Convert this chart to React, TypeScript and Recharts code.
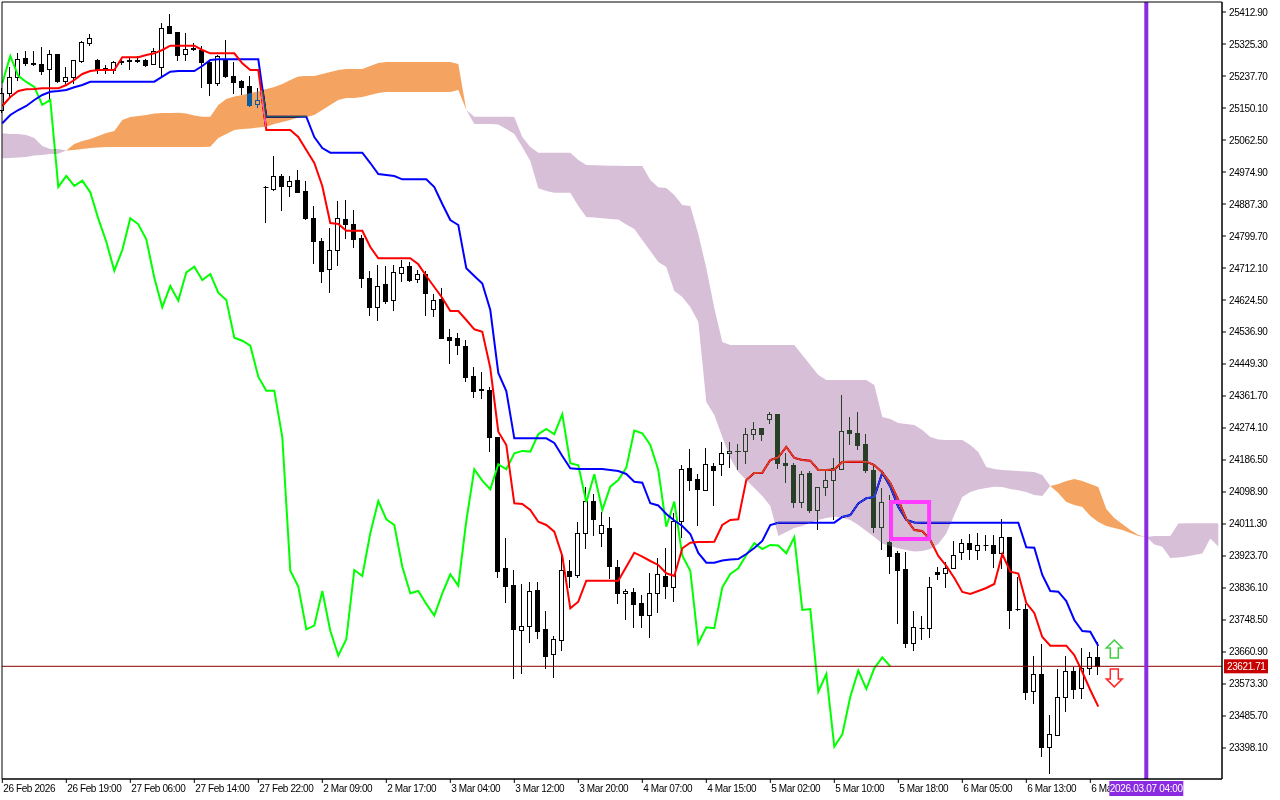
import React from 'react';
import { ComposedChart, Bar, Line, Area, XAxis, YAxis, ReferenceLine, ReferenceArea, ReferenceDot } from 'recharts';

// ---- candles (bar index 0..137, H1 bars) ----
const opens = [25145,25191,25235,25287,25274,25271,25257,25298,25224,25235,25279,25328,25282,25260,25254,25279,25282,25282,25282,25271,25263,25375,25358,25298,25315,25309,25276,25219,25282,25238,25224,25210,25161,24933,24927.6,24964,24937,24953,24922.1,24848,24786,24708.5,24761.4,24845.4,24831.7,24795.1,24684,24604.8,24668.6,24622.8,24700.3,24717.6,24681.2,24695.7,24599.1,24626.7,24522.4,24519.7,24498.6,24416.4,24380,24378.4,24249,23890,23844.3,23723,23733,23830.6,23724,23655,23694,23882.7,23869.8,23985.8,24074.3,23985.8,23999.5,23893,23821.6,23824.4,23794.2,23760.3,23821.6,23869,23839.7,24017.6,24164,24134.5,24104.4,24171,24175,24206.8,24210.6,24209.5,24257,24273.5,24298.2,24311.8,24177.7,24172.8,24071,24151.7,24049.6,24111.8,24131.75,24164,24268.9,24259.8,24230.5,24159.1,24003.9,23962.8,23931.1,23888.1,23684.7,23725.8,23725.8,23879.1,23876.4,23890,23934.3,23958.7,23940.1,23952,23953.9,23931.1,23975,23779.6,23778.6,23555,23600.7,23400,23435.6,23538.5,23609.7,23561.5,23616.3,23646.4];
const highs = [25205,25263,25301,25306,25306,25317,25309,25299,25263,25282,25334,25353,25283,25268,25279,25285,25290,25293,25283,25315,25383,25408,25359,25356,25328,25320,25282,25295,25336.5,25276,25227,25238,25205,24937,25019,24969.5,24964,24980.4,24951,24882,24794.5,24821.9,24895.8,24898.5,24871,24802.7,24704.7,24720.3,24717.6,24720.3,24734,24729.4,24706.6,24704.7,24641.2,24658.2,24545.4,24533.6,24515,24442,24428.2,24387.2,24250,23972.2,23885.4,23847.3,23853.4,23853.4,23774,23704.9,23935.6,23913,24017.6,24113.4,24093.6,24045,24029.6,23913,23832.5,23835.3,23817,23878,23917.4,23945,24042.3,24172.8,24216,24148.2,24218.7,24177.7,24236.8,24236.8,24229.7,24275,24289.7,24274,24317.3,24312,24205,24177.7,24156.4,24157,24113.4,24157,24193,24364.7,24305,24318.7,24257,24172.8,24110,24090.8,23937.4,23935.6,23773.4,23759.7,23867,23892.8,23908.4,23965.6,23969.4,23983.9,23987.5,23981.2,23981.2,24023.75,23975.5,23867,23792.5,23650,23683,23488.5,23613.5,23650,23621,23672.7,23662,23689];
const lows = [25139,25178,25227,25268,25268,25243,25172,25222,25219,25219,25276,25323,25246,25246,25246,25271,25257,25276,25265,25270,25241,25355,25282,25282,25309,25208,25186,25213,25235,25191,25189,25156,25153,24838,24927,24871,24910,24919,24846,24726.6,24674.6,24647,24720.3,24793.4,24770.4,24661,24583.7,24570,24617.4,24597,24677.3,24677,24674.6,24583.7,24581,24521,24453,24476,24403.6,24359,24356,24212,23867,23798.8,23589,23604,23689,23698.4,23616.3,23591.7,23666.4,23839.7,23867,23945,23981.2,23952,23862.7,23796,23750.5,23728.5,23728.5,23703,23771.2,23808,23801.4,23976.6,24104.4,24008.6,24104,24063.4,24145.4,24168.4,24161,24177.7,24243,24241,24287,24164,24127,24057,24058.6,24043.3,23996.8,24090.8,24023.75,24161,24230.5,24216.7,24154.5,23990.2,23942,23876.3,23739.5,23675.4,23666.4,23695.6,23701,23860,23838,23890,23915.5,23915.5,23915.5,23940,23894.4,23890,23726,23777,23531.4,23522,23376.4,23329,23435,23500,23534,23534,23600.7,23600.7];
const closes = [25191,25235,25285,25274,25271,25252,25298,25224,25235,25282,25331,25342,25257,25257,25276,25276,25279,25279,25268,25306,25369,25356,25295,25312,25312,25276,25219,25292.5,25238,25221.5,25208,25158.6,25172.3,24934,24964,24936.8,24951.1,24919.3,24847.1,24784.1,24704.7,24761.4,24848.4,24831.7,24790.7,24685.6,24604.8,24663.1,24622.8,24700.3,24715.7,24679.3,24695.7,24644.5,24624.75,24521.3,24513.1,24499.4,24414.5,24376.2,24376.2,24249,23883.5,23839.7,23723,23733,23827.9,23719.2,23651,23695.6,23885.4,23869,23985.8,24074.3,24024.2,24008.6,23894.4,23821.6,23827.9,23792.5,23760.3,23821.6,23873.6,23842.4,24019.5,24161,24130,24106.3,24175,24161,24205,24211.4,24209.5,24257,24271.6,24257,24311.8,24177.7,24172.2,24071,24147.3,24049.6,24113.4,24131.75,24165.4,24267,24259.8,24227.6,24159.1,24003.9,24072.4,23924.5,23883.5,23684.7,23728.5,23726,23838,23874.5,23890,23926.4,23958.7,23942.9,23953.9,23952.5,23931.1,23975,23776,23778.5,23552.2,23600.7,23401.7,23435.6,23538.5,23609.7,23559.6,23616.3,23646.4,23621.71];

// ---- Ichimoku lines ----
const tenkan = [25155.6,25180.2,25196.6,25201.3,25202.1,25204,25204,25204,25213.1,25226.8,25243.2,25251.4,25254.1,25254.1,25254.1,25288.9,25288.9,25288.9,25295.2,25299.8,25308.9,25320.6,25320.6,25320.6,25320.6,25308.9,25299.8,25299.8,25299.8,25299.8,25272.5,25254.1,25254.1,25089.9,25089.9,25089.9,25089.9,25070.7,25035.1,24999.5,24936.6,24835.3,24832.6,24814.2,24814.2,24814.2,24769.6,24738.7,24738.7,24738.7,24738.7,24738.7,24722.2,24690.2,24660.1,24630,24594.4,24594.4,24569.8,24544.3,24537.7,24438.3,24264,24227.6,24068,24066,24049.6,24017.6,24008.6,23990.2,23923.7,23780.5,23798.6,23856.1,23856.1,23856.1,23856.1,23856.1,23894.4,23932.7,23921.8,23910,23899.1,23876.3,23869,23944.8,23960.1,23962,23962,23962.9,24008.6,24022.3,24024.2,24131.8,24150.9,24151.8,24186.5,24193.9,24222.1,24192,24186.5,24184.6,24159.1,24159.1,24160.5,24181.1,24181.9,24181.9,24181.9,24172.8,24152.3,24123.6,24077,24025,23994.9,23992.1,23967.5,23923.7,23896.4,23863.5,23825.2,23819.7,23827.9,23836.1,23847,23929.2,23880.7,23875.8,23795,23767.7,23702,23678.2,23678.2,23678.2,23652.7,23606.1,23556.9,23511.2];
const kijun = [25108.2,25130.9,25144.6,25155.6,25172,25185.7,25194.7,25196.6,25199.4,25206.8,25213.1,25222.1,25222.1,25222.1,25222.1,25222.1,25222.1,25222.1,25222.1,25222.1,25235.8,25249.5,25251.4,25251.4,25251.4,25265.1,25281.5,25283.4,25283.4,25283.4,25283.4,25283.4,25283.4,25126.3,25126.3,25126.3,25126.3,25126.3,25126.3,25070.7,25040.6,25027.7,25027.7,25027.7,25027.7,25027.7,24999.5,24969.4,24966.7,24963.9,24954.9,24954.9,24954.9,24954.9,24933.8,24887.3,24843.5,24829.8,24711.3,24690.2,24669.7,24597.1,24424.7,24375.4,24245.9,24245.9,24245.9,24245.9,24245.9,24233.1,24197.5,24163.8,24161.9,24161.9,24161.9,24161.9,24159.1,24156.4,24148.2,24127.1,24124.4,24068,24062,24038.7,24020.9,24005.9,23984,23932,23905.4,23905.4,23911.4,23914.1,23915.5,23929.2,23945.6,23964.8,24008.6,24014.9,24014.9,24014.9,24014.9,24014.9,24014.9,24014.9,24014.9,24030.5,24035.9,24067.4,24081.6,24085.2,24151.8,24113.4,24057.9,24022.3,24015.4,24014.9,24014.9,24014.9,24014.9,24014.9,24014.9,24014.9,24014.9,24014.9,24014.9,24014.9,24014.9,24014.9,23947.5,23946.4,23871.7,23827.9,23826,23800.5,23748.5,23718.4,23716.5,23677.3];
const chikou = [25218.8,25292.5,25238,25221.5,25208,25158.6,25172.3,24934,24964,24936.8,24951.1,24919.3,24847.1,24784.1,24704.7,24761.4,24848.4,24831.7,24790.7,24685.6,24604.8,24663.1,24622.8,24700.3,24715.7,24679.3,24695.7,24644.5,24624.75,24521.3,24513.1,24499.4,24414.5,24376.2,24376.2,24249,23883.5,23839.7,23723,23733,23827.9,23719.2,23651,23695.6,23885.4,23869,23985.8,24074.3,24024.2,24008.6,23894.4,23821.6,23827.9,23792.5,23760.3,23821.6,23873.6,23842.4,24019.5,24161,24130,24106.3,24175,24161,24205,24211.4,24209.5,24257,24271.6,24257,24311.8,24177.7,24172.2,24071,24147.3,24049.6,24113.4,24131.75,24165.4,24267,24259.8,24227.6,24159.1,24003.9,24072.4,23924.5,23883.5,23684.7,23728.5,23726,23838,23874.5,23890,23926.4,23958.7,23942.9,23953.9,23952.5,23931.1,23975,23776,23778.5,23552.2,23600.7,23401.7,23435.6,23538.5,23609.7,23559.6,23616.3,23646.4,23621.71];
const spanA = [25012.4,25013.2,25014.6,25015.9,25020,25021.4,25024.2,25025,25033.7,25051.5,25059.8,25065.3,25073.4,25081.6,25087.1,25117.3,25125.5,25128.2,25130.9,25135,25136.4,25136.4,25137.2,25135,25129.6,25126.3,25126.3,25158.3,25174.7,25181.6,25185.7,25191.2,25195.3,25202.1,25207.6,25215.8,25226.8,25236.3,25237.7,25237.7,25243.2,25248.7,25254.1,25256.9,25256.9,25256.9,25265.1,25273.3,25276,25276,25276,25276,25276,25276,25276,25276,25276,25270.6,25144.6,25106.3,25106.3,25106.3,25104.9,25092.6,25078.9,25043.3,25005,24930.3,24922.9,24918.2,24918.2,24918.2,24881.8,24851.7,24850.3,24848.2,24846.2,24844.9,24831.2,24818.9,24788.8,24758.6,24728.5,24714.8,24649.1,24632.7,24605.3,24564.3,24345.3,24309.7,24249.5,24192,24153.6,24131.8,24109.9,24088,24060.6,23978.5,23989.4,24000.4,24005.9,24015.4,24022.3,24027.7,24031.3,24028.6,24022.3,24008.6,23992.1,23975.7,23957.9,23951.1,23944.8,23940.1,23936,23937.4,23942.9,23956.6,23985.3,24035.9,24085.2,24098.9,24105.7,24109.9,24113.1,24112.6,24107.1,24103.6,24098.9,24090.7,24088,24115.3,24120.8,24129,24134.5,24129,24120.8,24112.6,24052.3,24027.7,24011.3,23994.9,23981.2,23975.7,23955.2,23949.2,23918.2,23919.6,23922.3,23926.4,23930.5,23971.6,23949.7];
const spanB = [25080.9,25078.9,25078.9,25076.2,25068,25046.1,25037.9,25037.9,25033.7,25035.1,25037.9,25040.6,25042,25043.3,25043.3,25043.3,25043.3,25043.3,25043.3,25043.3,25043.3,25043.3,25043.3,25043.3,25043.3,25043.3,25044.2,25068,25078.9,25089.9,25092.6,25094,25096.7,25098.9,25106.3,25111.8,25117.3,25124.1,25125.5,25130.9,25144.6,25158.3,25172,25177.5,25177.5,25180.2,25185.7,25191.2,25193.9,25193.9,25193.9,25193.9,25193.9,25193.9,25193.9,25193.9,25193.9,25199.4,25144.6,25126.3,25126.3,25126.3,25126.3,25126.3,25125.5,25070.7,25043.3,25027.7,25027.7,25027.7,25027.7,25027.7,25007.8,24994.1,24993.5,24992.7,24992.2,24991.9,24991.6,24991.3,24991.3,24953,24933,24931.1,24911.9,24884.6,24881.8,24805.2,24712.1,24602.6,24509.5,24501.3,24501.3,24501.3,24501.3,24501.3,24501.3,24501.3,24501.3,24501.3,24473.9,24446.6,24419.2,24405.5,24405.5,24405.5,24405.5,24405.5,24405.5,24391.8,24304.2,24298.8,24287.8,24285.1,24282.3,24268.6,24249.5,24242.6,24241.3,24241.3,24241.3,24227.6,24208.3,24167.3,24161.8,24159.1,24157.7,24156.4,24155,24153.6,24145.4,24115.3,24096.2,24071.5,24063.3,24057.8,24033.2,24016.8,24005.9,24000.4,23994.9,23986.7,23978.5,23975.7,23978.5,23978.5,23978.5,24012.7,24013.2,24013.2,24013.2,24013.2,24013.2];

// ---- axes / annotations ----
const timeTickIndex = [0,8,16,24,32,40,48,56,64,72,80,88,96,104,112,120,128,136];
const timeTickLabels = ['26 Feb 2026','26 Feb 19:00','27 Feb 06:00','27 Feb 14:00','27 Feb 22:00','2 Mar 09:00','2 Mar 17:00','3 Mar 04:00','3 Mar 12:00','3 Mar 20:00','4 Mar 07:00','4 Mar 15:00','5 Mar 02:00','5 Mar 10:00','5 Mar 18:00','6 Mar 05:00','6 Mar 13:00','6 Mar 21:00'];
const priceTicks = [25412.9,25325.3,25237.7,25150.1,25062.5,24974.9,24887.3,24799.7,24712.1,24624.5,24536.9,24449.3,24361.7,24274.1,24186.5,24098.9,24011.3,23923.7,23836.1,23748.5,23660.9,23573.3,23485.7,23398.1];
const lastPrice = 23621.71;
const markerIndex = 143;
const markerLabel = '2026.03.07 04:00';
const boxIndex = [111.1, 115.85];
const boxPrice = [23970.2, 24071.5];
const signals = [
  { k: 139, price: 23669, dir: 'up' },
  { k: 139, price: 23590, dir: 'down' },
];
const X_DOMAIN: [number, number] = [-0.0375, 152.4625];
const Y_DOMAIN: [number, number] = [23313.2, 25440.3];
const TAG_HALF = 37;

const rows = spanA.map((a, k) => {
  const b = spanB[k];
  const r: any = { k };
  if (k < opens.length) {
    r.range = [lows[k], highs[k]];
    r.open = opens[k]; r.high = highs[k]; r.low = lows[k]; r.close = closes[k];
  }
  if (k < tenkan.length) r.tenkan = tenkan[k];
  if (k < kijun.length) r.kijun = kijun[k];
  if (k < chikou.length) r.chikou = chikou[k];
  r.kumoUp = a >= b ? [b, a] : null;
  r.kumoDown = b >= a ? [a, b] : null;
  return r;
});

const FONT = '"Liberation Sans", Arial, sans-serif';

const Candle = (props: any) => {
  const { x, y, width, height, payload } = props;
  if (!payload || payload.high == null) return null;
  const top = Math.min(y, y + height);
  const h = Math.abs(height);
  const cx = Math.floor(x + width / 2) + 0.5;
  const span = payload.high - payload.low;
  const py = (v: number) => (span === 0 ? top : top + ((payload.high - v) / span) * h);
  const yo = py(payload.open);
  const yc = py(payload.close);
  const bull = payload.close >= payload.open;
  const bt = Math.round(Math.min(yo, yc)) + 0.5;
  const bh = Math.max(0, Math.round(Math.abs(yo - yc)));
  return (
    <g>
      <line x1={cx} x2={cx} y1={Math.round(top)} y2={Math.round(top + h) + 1} stroke="#000" strokeWidth={1} />
      {bh < 1 ? (
        <line x1={cx - 2} x2={cx + 3} y1={bt} y2={bt} stroke="#000" strokeWidth={1} />
      ) : (
        <rect x={cx - 2} y={bt} width={4} height={bh} fill={bull ? '#fff' : '#000'} stroke="#000" strokeWidth={1} />
      )}
    </g>
  );
};

const TimeTick = (props: any) => {
  const { x, y, payload, width } = props;
  const i = timeTickIndex.indexOf(payload.value);
  const pxPerBar = (width || 1220) / (X_DOMAIN[1] - X_DOMAIN[0]);
  const tagLeft = x + (markerIndex - payload.value) * pxPerBar - TAG_HALF;
  const clipW = Math.max(0, tagLeft - x);
  const id = `tclip-${payload.value}`;
  return (
    <g>
      <defs>
        <clipPath id={id}>
          <rect x={x - 2} y={y - 2} width={clipW + 2} height={20} />
        </clipPath>
      </defs>
      <text x={x + 1} y={y} dy={9} textAnchor="start" fontSize={10} letterSpacing={-0.4} fontFamily={FONT} fill="#000" clipPath={`url(#${id})`}>
        {i >= 0 ? timeTickLabels[i] : ''}
      </text>
    </g>
  );
};

const PriceTick = (props: any) => {
  const { x, y, payload } = props;
  return (
    <text x={x} y={y} dy={3.5} textAnchor="start" fontSize={10} letterSpacing={-0.4} fontFamily={FONT} fill="#000">
      {Number(payload.value).toFixed(2)}
    </text>
  );
};

const PriceTag = (props: any) => {
  const vb = props.viewBox || {};
  const x0 = vb.x + vb.width + 2;
  const y0 = vb.y;
  return (
    <g>
      <rect x={x0} y={y0 - 7} width={44} height={14} fill="#C80000" />
      <text x={x0 + 3} y={y0} dy={3.5} fontSize={10} letterSpacing={-0.4} fontFamily={FONT} fill="#fff">
        {lastPrice.toFixed(2)}
      </text>
    </g>
  );
};

const DateTag = (props: any) => {
  const vb = props.viewBox || {};
  const cx = vb.x;
  const yb = vb.y + vb.height + 2;
  return (
    <g>
      <rect x={cx - TAG_HALF} y={yb} width={TAG_HALF * 2} height={15} fill="#8A2BE2" />
      <text x={cx} y={yb + 11} textAnchor="middle" fontSize={10} letterSpacing={-0.3} fontFamily={FONT} fill="#fff">
        {markerLabel}
      </text>
    </g>
  );
};

const Arrow = (props: any) => {
  const { cx, cy, dir } = props;
  if (cx == null || cy == null) return null;
  const s = dir === 'up' ? 1 : -1;
  const pts = [
    [0, -9], [8, -1], [4, -1], [4, 9], [-4, 9], [-4, -1], [-8, -1],
  ].map(([dx, dy]) => `${cx + dx},${cy + s * dy}`).join(' ');
  return (
    <polygon points={pts} fill="#fff" stroke={dir === 'up' ? '#3fcf3f' : '#ff2a2a'} strokeWidth={1.5} />
  );
};

export default function App() {
  const z: any = {};
  return (
    <div style={{ position: 'absolute', left: 0, top: 0, width: 1280, height: 800, background: '#fff', fontFamily: FONT }}>
      <style>{`body{margin:0;background:#fff}.kumo path{mix-blend-mode:difference}`}</style>
      <ComposedChart width={1280} height={800} data={rows} margin={{ top: 2, left: 2, right: 0, bottom: 0 }}>
        <XAxis
          dataKey="k"
          type="number"
          domain={X_DOMAIN}
          ticks={timeTickIndex}
          interval={0}
          height={21}
          tickSize={4}
          tickMargin={0}
          axisLine={{ stroke: '#000' }}
          tickLine={{ stroke: '#000' }}
          tick={<TimeTick />}
        />
        <YAxis
          orientation="right"
          type="number"
          domain={Y_DOMAIN}
          ticks={priceTicks}
          interval={0}
          width={58}
          tickSize={4}
          tickMargin={3}
          axisLine={{ stroke: '#000' }}
          tickLine={{ stroke: '#000' }}
          tick={<PriceTick />}
        />
        <Bar dataKey="range" barSize={5} shape={<Candle />} isAnimationActive={false} {...z} zIndex={300} />
        <Line dataKey="chikou" stroke="#00FF00" strokeWidth={2} dot={false} activeDot={false} isAnimationActive={false} zIndex={400} />
        <Line dataKey="kijun" stroke="#0000FF" strokeWidth={2} dot={false} activeDot={false} isAnimationActive={false} zIndex={400} />
        <Line dataKey="tenkan" stroke="#FF0000" strokeWidth={2} dot={false} activeDot={false} isAnimationActive={false} zIndex={400} />
        <Area className="kumo" dataKey="kumoUp" type="linear" stroke="none" fill="#0B5B9F" fillOpacity={1} isAnimationActive={false} activeDot={false} zIndex={450} />
        <Area className="kumo" dataKey="kumoDown" type="linear" stroke="none" fill="#274027" fillOpacity={1} isAnimationActive={false} activeDot={false} zIndex={450} />
        <ReferenceLine y={lastPrice} stroke="#8B0000" strokeWidth={1} label={<PriceTag />} zIndex={460} />
        <ReferenceArea x1={boxIndex[0]} x2={boxIndex[1]} y1={boxPrice[0]} y2={boxPrice[1]} fill="none" fillOpacity={0} stroke="#FF3CFF" strokeWidth={4} zIndex={470} />
        <ReferenceLine x={markerIndex} stroke="#8A2BE2" strokeWidth={4} label={<DateTag />} zIndex={480} />
        {signals.map((s, i) => (
          <ReferenceDot key={i} x={s.k} y={s.price} r={8} shape={(p: any) => <Arrow {...p} dir={s.dir} />} zIndex={490} />
        ))}
        <ReferenceArea x1={X_DOMAIN[0]} x2={X_DOMAIN[1]} y1={Y_DOMAIN[0]} y2={Y_DOMAIN[1]} fill="none" fillOpacity={0} stroke="#000" strokeWidth={1} zIndex={495} />
      </ComposedChart>
    </div>
  );
}
